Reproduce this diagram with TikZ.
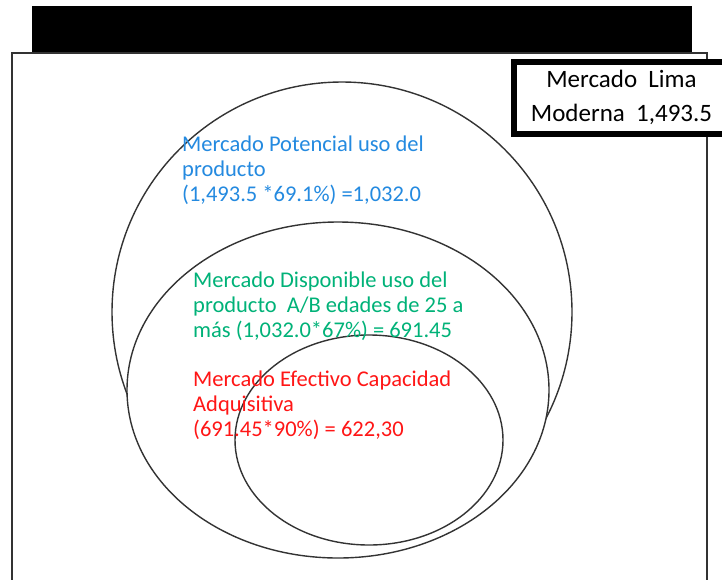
\documentclass[tikz,border=0pt]{standalone}
\usepackage{fontspec}
\setmainfont{Carlito}
\usepackage{xcolor}
\usetikzlibrary{positioning}

\definecolor{potblue}{RGB}{36,138,224}
\definecolor{dispgreen}{RGB}{0,178,120}
\definecolor{efecred}{RGB}{255,22,22}

\begin{document}
\begin{tikzpicture}[x=1pt, y=-1pt,
  frame/.style={draw=black!80, line width=1.4pt},
  ring/.style={draw=black!80, line width=1.4pt},
  label/.style={
    align=left,
    anchor=north west,
    inner sep=0pt,
    font=\fontsize{22.5}{25}\selectfont
  },
  total/.style={
    draw,
    line width=6pt,
    fill=white,
    align=center,
    anchor=north west,
    inner sep=0pt,
    minimum width=215pt,
    minimum height=72pt,
    font=\fontsize{25}{34}\selectfont
  }
]
\path[use as bounding box] (0,0) rectangle (722,579);
\clip (0,0) rectangle (722,579);
\fill[white] (0,0) rectangle (722,579);

% marco y barra de titulo
\draw[frame] (12,600) -- (12,53) -- (707,53) -- (707,600);
\fill[black] (32,6) rectangle (692,52);

% mercados
\draw[ring] (342,312) circle [x radius=230pt, y radius=230pt];
\draw[ring, fill=white] (338,390) circle [x radius=211pt, y radius=168pt];
\draw[ring] (369,440) circle [x radius=134pt, y radius=105pt];

\node[label, text=potblue] (pot) at (182,136)
{Mercado Potencial uso del\\producto\\(1,493.5 *69.1\%) =1,032.0};
\node[label, text=dispgreen] (disp) at (193,272)
{Mercado Disponible uso del\\producto\ \ A/B edades de 25 a\\m\'as (1,032.0*67\%) = 691.45};
\node[label, text=efecred] (efec) at (193,371)
{Mercado Efectivo Capacidad\\Adquisitiva\\(691.45*90\%) = 622,30};

\node[total] (lima) at (511,58.5) {Mercado\ \ Lima\\Moderna\ \ 1,493.5};
\end{tikzpicture}
\end{document}
